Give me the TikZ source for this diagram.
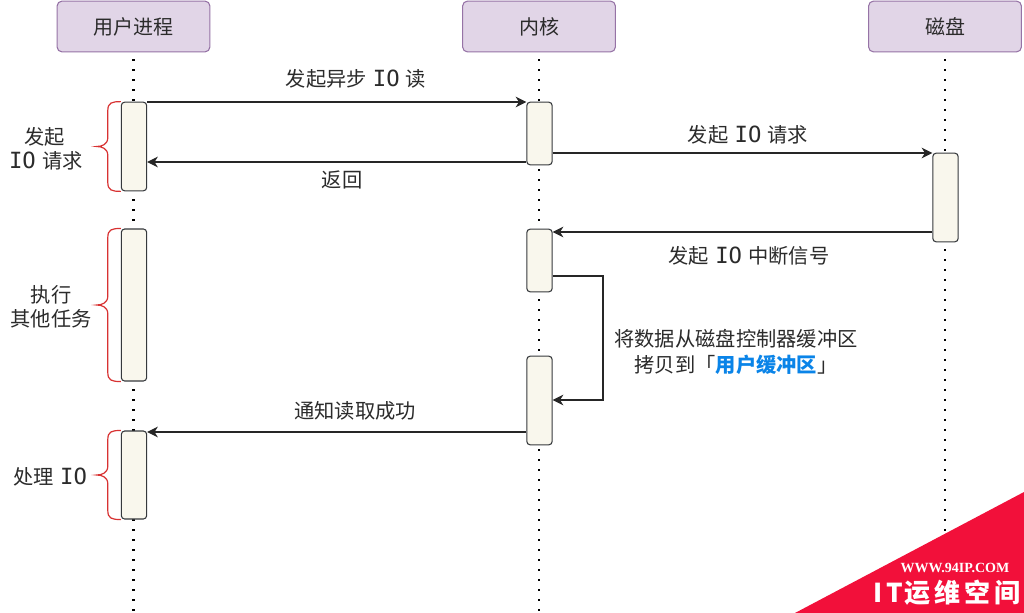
\documentclass[tikz,border=0pt]{standalone}
\usepackage{fontspec}
\setmainfont{Noto Sans CJK SC}
\newfontfamily\iofont[Scale=1.1]{DejaVu Sans Mono}
\newfontfamily\wwwfont{Liberation Serif}
\usetikzlibrary{arrows.meta}
\definecolor{hfill}{HTML}{E1D5E7}
\definecolor{hdraw}{HTML}{9673A6}
\definecolor{bfill}{HTML}{F9F7ED}
\definecolor{bdraw}{HTML}{36393D}
\definecolor{bracered}{HTML}{D83232}
\definecolor{txt}{HTML}{2B2B2B}
\definecolor{hl}{HTML}{0A84E8}
\definecolor{wm}{HTML}{F2103A}
\newcommand{\io}{\hspace{1.2pt}{\iofont IO}\hspace{1.2pt}}
\newcommand{\curlybrace}[1]{%
  \draw[curly] (#1.north west) .. controls +(-9,0) and +(0,-8) .. ([shift={(-13,9)}]#1.north west)
    -- ([shift={(-13,-9)}]#1.west) .. controls +(0,7) and +(5,0) .. ([shift={(-24,0)}]#1.west)
    .. controls +(5,0) and +(0,-7) .. ([shift={(-13,9)}]#1.west)
    -- ([shift={(-13,-9)}]#1.south west) .. controls +(0,8) and +(-9,0) .. (#1.south west);}
\tikzset{
  sketchy/.style={rounded corners=3.5pt},
  header/.style={sketchy,draw=hdraw,fill=hfill,line width=.8pt,minimum width=114.5pt,minimum height=38pt,inner sep=0pt,font=\fontsize{15}{15}\selectfont,text=txt},
  actbox/.style={rounded corners=2.5pt,draw=bdraw,fill=bfill,line width=.8pt,minimum width=19pt,inner sep=0pt},
  lifeline/.style={line width=1.6pt,black,dash pattern=on 1.5pt off 6pt,dash phase=2.25pt},
  msg/.style={draw=black!85,line width=.8pt,-{Stealth[length=8pt,width=8pt,inset=2.5pt]}},
  lbl/.style={font=\fontsize{15.2}{15.2}\selectfont,text=txt,inner sep=0pt,align=center},
  curly/.style={draw=bracered,line width=.9pt},
}
\begin{document}
\begin{tikzpicture}[x=.75pt,y=-.75pt]
\useasboundingbox (0,0) rectangle (1024,613);
\fill[white] (0,0) rectangle (1024,613);
% headers
\node[header] (user) at (133.5,26.5) {用户进程};
\node[header] (kern) at (539,26.5) {内核};
\node[header] (disk) at (945,26.5) {磁盘};
% life line ends and message rows
\coordinate (uend) at (133.5,611);
\coordinate (kend) at (539,611);
\coordinate (dend) at (945,611);
\draw[lifeline] (user.south) -- (uend);
\draw[lifeline] (kern.south) -- (kend);
\draw[lifeline] (disk.south) -- (dend);
% activations
\node[actbox,minimum height=66.5pt] (u1) at (134,146.5) {};
\node[actbox,minimum height=114pt] (u2) at (134,305) {};
\node[actbox,minimum height=66pt] (u3) at (134,475) {};
\node[actbox,minimum height=47pt] (k1) at (539.5,133.5) {};
\node[actbox,minimum height=47pt] (k2) at (539.5,260.5) {};
\node[actbox,minimum height=66.5pt] (k3) at (539.5,400.5) {};
\node[actbox,minimum height=66.5pt] (d1) at (945.5,197.5) {};
% rows
\coordinate (r1) at (0,102);
\coordinate (r2) at (0,162);
\coordinate (r3) at (0,153);
\coordinate (r4) at (0,232);
\coordinate (r5) at (0,276);
\coordinate (r6) at (0,400);
\coordinate (r7) at (0,432);
\coordinate (cx) at (603,0);
% messages
\draw[msg] (u1.east |- r1) -- (k1.west |- r1);
\draw[msg] (k1.west |- r2) -- (u1.east |- r2);
\draw[msg] (k1.east |- r3) -- (d1.west |- r3);
\draw[msg] (d1.west |- r4) -- (k2.east |- r4);
\draw[msg] (k2.east |- r5) -- (cx |- r5) -- (cx |- r6) -- (k3.east |- r6);
\draw[msg] (k3.west |- r7) -- (u3.east |- r7);
% braces
\curlybrace{u1}
\curlybrace{u2}
\curlybrace{u3}
% labels
\node[lbl] (m1) at (356,79) {发起异步 \io{} 读};
\node[lbl] (m2) at (748,135) {发起 \io{} 请求};
\node[lbl] (m3) at (342,180) {返回};
\node[lbl] (m4) at (749,256) {发起 \io{} 中断信号};
\node[lbl] (m5) at (736,352) {将数据从磁盘控制器缓冲区\\[4pt]拷贝到「{\textcolor{hl}{\bfseries 用户缓冲区}}」};
\node[lbl] (m6) at (355,411) {通知读取成功};
\node[lbl] (l1) at (45,149) {发起\\[3pt]\io{} 请求};
\node[lbl] (l2) at (51,307) {执行\\[3pt]其他任务};
\node[lbl] (l3) at (51,477) {处理 \io};
% watermark
\fill[wm] (795,613) -- (1024,492) -- (1024,613) -- cycle;
\node[text=white,inner sep=0pt,font=\wwwfont\bfseries\fontsize{10.5}{10.5}\selectfont] (w1) at (955,568) {WWW.94IP.COM};
\node[text=white,inner sep=0pt,font=\bfseries\fontsize{19.5}{20}\selectfont] (w2) at (947,593) {I\hspace{3pt}T\hspace{1pt}运\hspace{3pt}维\hspace{3pt}空\hspace{3pt}间};
\end{tikzpicture}
\end{document}
